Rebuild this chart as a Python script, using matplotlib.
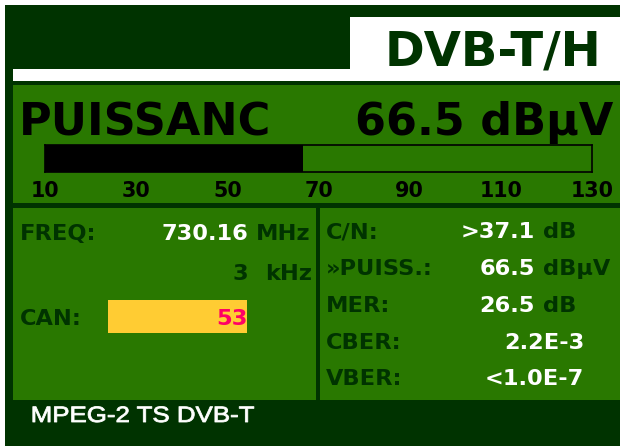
import matplotlib
matplotlib.use('Agg')
import matplotlib.pyplot as plt
from matplotlib.patches import Rectangle
from matplotlib.patheffects import AbstractPathEffect
from matplotlib.transforms import Affine2D

plt.rcParams['font.family'] = ['DejaVu Sans']

# ---------------- data ----------------
mode_title = "DVB-T/H"
meter_label = "PUISSANC"
meter_value = 66.5
meter_value_text = "66.5"
meter_unit = "dBµV"
scale_ticks = [10, 30, 50, 70, 90, 110, 130]
scale_min, scale_max = 10, 130

freq_label = "FREQ:"
freq_value = "730.16"
freq_unit = "MHz"
offset_value = "3"
offset_unit = "kHz"
channel_label = "CAN:"
channel_value = "53"

right_labels = ["C/N:", "»PUISS.:", "MER:", "CBER:", "VBER:"]
right_values = [">37.1", "66.5", "26.5", "2.2E-3", "<1.0E-7"]
right_units = ["dB", "dBµV", "dB", "", ""]
footer = "MPEG-2 TS DVB-T"

# ---------------- style ----------------
W, H, DPI = 620, 446, 100
PT = 72 / DPI
DARK = "#003300"
GREEN = "#297800"
WHITE = "#ffffff"
YELLOW = "#ffcc33"
PINK = "#ff0066"


class HStretch(AbstractPathEffect):
    """Stretch a text path horizontally about its left ink edge."""

    def __init__(self, sx, stroke_pt=0.0):
        super().__init__()
        self.sx = sx
        self.stroke_pt = stroke_pt

    def draw_path(self, renderer, gc, tpath, affine, rgbFace=None):
        ext = tpath.get_extents(affine)
        x0 = ext.x0
        new_aff = affine + Affine2D().translate(-x0, 0).scale(self.sx, 1).translate(x0, 0)
        gc0 = renderer.new_gc()
        gc0.copy_properties(gc)
        if self.stroke_pt > 0 and rgbFace is not None:
            gc0.set_linewidth(self.stroke_pt)
            gc0.set_foreground(rgbFace)
            gc0.set_joinstyle('round')
        renderer.draw_path(gc0, tpath, new_aff, rgbFace)
        gc0.restore()


fig = plt.figure(figsize=(W / DPI, H / DPI), dpi=DPI, facecolor=WHITE)
ax = fig.add_axes([0, 0, 1, 1])
ax.set_xlim(0, W)
ax.set_ylim(H, 0)
ax.axis('off')


def rect(x0, y0, x1, y1, color):
    ax.add_patch(Rectangle((x0, y0), x1 - x0, y1 - y0, facecolor=color,
                           edgecolor='none', zorder=1))


def txt(x, y, s, size_px, color, ha='left', weight='bold', **kw):
    return ax.text(x, y, s, fontsize=size_px * PT, color=color, ha=ha,
                   va='baseline', fontweight=weight, zorder=3, **kw)


# background layers
rect(5, 5, W + 10, H + 10, DARK)
rect(350, 17, W + 10, 81, WHITE)
rect(13, 69, W + 10, 81, WHITE)
rect(13, 85, W + 10, 203, GREEN)
rect(13, 208, 316, 400, GREEN)
rect(320, 208, W + 10, 400, GREEN)
rect(108, 300, 247, 333, YELLOW)

# header
txt(601, 65, mode_title, 48, DARK, ha='right')
txt(19, 135, meter_label, 44.5, 'black')
txt(613, 135, f"{meter_value_text} {meter_unit}", 44.5, 'black', ha='right')

# meter bar
bx0, bx1, by0, by1 = 45, 592, 145, 172
max_ = fig.add_axes([bx0 / W, 1 - by1 / H, (bx1 - bx0) / W, (by1 - by0) / H])
max_.set_facecolor(GREEN)
max_.barh([0], [meter_value - scale_min], left=scale_min, height=1.0,
          color='black', edgecolor='none')
max_.set_xlim(scale_min, scale_max)
max_.set_ylim(-0.5, 0.5)
max_.set_yticks([])
max_.set_xticks(scale_ticks)
max_.set_xticklabels([str(t) for t in scale_ticks], fontsize=20.6 * PT,
                     fontweight='bold', color='black')
max_.tick_params(axis='x', length=0, pad=9 * PT)
for sp in max_.spines.values():
    sp.set_color('black')
    sp.set_linewidth(1.2)

# left panel
fs = 22.5
txt(20, 240, freq_label, fs, DARK)
txt(248, 240, freq_value, fs, WHITE, ha='right')
txt(256, 240, freq_unit, fs, DARK)
txt(248, 280, offset_value, fs, DARK, ha='right')
txt(265, 280, offset_unit, fs, DARK)
txt(20, 325, channel_label, fs, DARK)
txt(248, 325, channel_value, fs, PINK, ha='right')

# right panel
ys = [238, 275, 312, 349, 385]
for y, lab, val, unit in zip(ys, right_labels, right_values, right_units):
    txt(326, y, lab, fs, DARK)
    if unit:
        txt(535, y, val, fs, WHITE, ha='right')
        txt(543, y, unit, fs, DARK)
    else:
        txt(584, y, val, fs, WHITE, ha='right')

# footer (Arial-like, slightly wide as on the instrument screen)
txt(31, 422, footer, 22.3, WHITE, weight='normal',
    family=['Liberation Sans', 'DejaVu Sans'],
    path_effects=[HStretch(1.16, stroke_pt=0.6)])

fig.savefig('out.png', dpi=DPI, facecolor=WHITE)
